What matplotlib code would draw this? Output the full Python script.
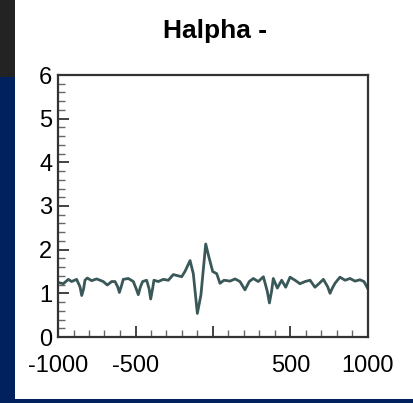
import matplotlib
matplotlib.use("Agg")
import matplotlib.pyplot as plt
from matplotlib.patches import Rectangle
from matplotlib.ticker import MultipleLocator

title = "Halpha -"
velocity = [-1000, -966, -933, -912, -880, -858, -847, -835, -826, -811, -783, -751, -729, -708,
            -682, -654, -632, -615, -604, -590, -579, -546, -514, -495, -482, -468, -454, -428,
            -412, -402, -390, -381, -353, -321, -288, -256, -234, -202, -181, -148, -127,
            -101, -78, -47, -30, -2, 24, 45, 71, 110, 142, 174, 206, 234, 260, 292, 325,
            350, 364, 378, 389, 415, 443, 469, 497, 529, 561, 594, 626, 658, 686, 712, 740,
            755, 770, 787, 819, 852, 884, 916, 948, 974, 1000]
flux = [1.25, 1.22, 1.32, 1.27, 1.32, 1.15, 0.95, 1.10, 1.30, 1.35, 1.29, 1.33, 1.30, 1.27,
        1.19, 1.27, 1.27, 1.15, 1.02, 1.18, 1.32, 1.34, 1.27, 1.10, 0.97, 1.15, 1.27, 1.30,
        1.10, 0.87, 1.10, 1.30, 1.27, 1.32, 1.30, 1.43, 1.41, 1.38, 1.50, 1.75, 1.45,
        0.54, 0.96, 2.13, 1.88, 1.50, 1.45, 1.23, 1.30, 1.28, 1.33, 1.27, 1.08, 1.27, 1.34,
        1.27, 1.38, 1.05, 0.78, 1.05, 1.34, 1.12, 1.30, 1.14, 1.37, 1.30, 1.22, 1.27, 1.30,
        1.14, 1.23, 1.32, 1.15, 1.00, 1.12, 1.23, 1.37, 1.30, 1.34, 1.28, 1.31, 1.27, 1.10]
xticks = [-1000, -500, 0, 500, 1000]
xtick_labels = ["-1000", "-500", "", "500", "1000"]
yticks = [0, 1, 2, 3, 4, 5, 6]

plt.rcParams['font.family'] = ['Liberation Sans', 'DejaVu Sans']

W, H = 414, 403
fig = plt.figure(figsize=(W / 100, H / 100), dpi=100)
fig.patch.set_facecolor('#01215e')
fig.patches.append(Rectangle((0, (H - 77) / H), 15 / W, 77 / H, transform=fig.transFigure,
                             facecolor='#232323', edgecolor='none', zorder=-5))
fig.patches.append(Rectangle((15 / W, (H - 399) / H), 1 - 15 / W, 399 / H, transform=fig.transFigure,
                             facecolor='white', edgecolor='none', zorder=-5))

ax = fig.add_axes([58 / W, (H - 337) / H, (368 - 58) / W, (337 - 75) / H])
ax.set_zorder(2)
ax.set_facecolor('white')
ax.plot(velocity, flux, color='#3a5858', lw=2.0, solid_joinstyle='round')
ax.set_xlim(-1000, 1000)
ax.set_ylim(0, 6)
ax.set_xticks(xticks)
ax.set_xticklabels(xtick_labels)
ax.set_yticks(yticks)
ax.xaxis.set_minor_locator(MultipleLocator(100))
ax.yaxis.set_minor_locator(MultipleLocator(0.2))
ax.tick_params(which='major', direction='in', length=8, width=1.2, color='#222222',
               labelsize=17, labelcolor='black')
ax.tick_params(which='minor', direction='in', length=5, width=1.0, color='#666666')
ax.tick_params(axis='x', which='major', pad=13)
ax.tick_params(axis='y', which='major', pad=4)
for s in ax.spines.values():
    s.set_linewidth(1.6)
    s.set_color('#333333')

fig.text(215 / W, (H - 31) / H, title, ha='center', va='center', fontsize=19,
         fontweight='bold', color='black', zorder=3)

fig.savefig('out.png', dpi=100, facecolor=fig.get_facecolor())
